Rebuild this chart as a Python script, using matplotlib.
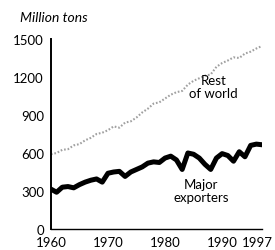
import matplotlib
matplotlib.use('Agg')
import matplotlib.pyplot as plt
import matplotlib.transforms as mtransforms

# data (million tons)
years = list(range(1960, 1998))
major = [315, 290, 330, 335, 325, 350, 370, 385, 395, 370,
         440, 450, 455, 415, 450, 470, 490, 520, 530, 525,
         560, 575, 545, 470, 600, 590, 560, 510, 470, 560,
         595, 580, 535, 610, 570, 660, 670, 665]
rest = [590, 600, 625, 630, 660, 670, 700, 720, 750, 760,
        780, 810, 800, 840, 850, 880, 920, 950, 990, 1000,
        1030, 1060, 1080, 1090, 1140, 1170, 1190, 1210, 1220, 1280,
        1310, 1330, 1355, 1350, 1385, 1400, 1425, 1445]
xticks = [1960, 1970, 1980, 1990, 1997]
yticks = [0, 300, 600, 900, 1200, 1500]

plt.rcParams['font.family'] = ['Lato', 'DejaVu Sans']

fig = plt.figure(figsize=(2.75, 2.51), dpi=100)
ax = fig.add_axes([0.185, 0.0837, 0.768, 0.757])

ax.plot(years, rest, color='#a0a0a0', lw=1.5, ls=(0, (0.8, 0.9)))
ax.plot(years, major, color='black', lw=3.6, solid_joinstyle='round')

ax.set_xlim(1960, 1997)
ax.set_ylim(0, 1500)
ax.set_xticks(xticks)
ax.set_yticks(yticks)
ax.tick_params(length=0, labelsize=9.5, pad=5)

# nudge the last year label so it stays inside the picture
lab = ax.get_xticklabels()[-1]
lab.set_transform(lab.get_transform() +
                  mtransforms.ScaledTranslation(-5 / 100, 0, fig.dpi_scale_trans))

for s in ['top', 'right']:
    ax.spines[s].set_visible(False)
ax.spines['left'].set_linewidth(1.4)
ax.spines['bottom'].set_linewidth(1.0)

ax.text(1988.5, 1125, 'Rest\nof world', ha='center', va='center',
        fontsize=9.5, linespacing=1.15)
ax.text(1986.3, 305, 'Major\nexporters', ha='center', va='center',
        fontsize=9.5, linespacing=1.15)

fig.text(0.073, 0.93, 'Million tons', fontsize=10, style='italic',
         ha='left', va='center')

fig.savefig('out.png', dpi=100)
